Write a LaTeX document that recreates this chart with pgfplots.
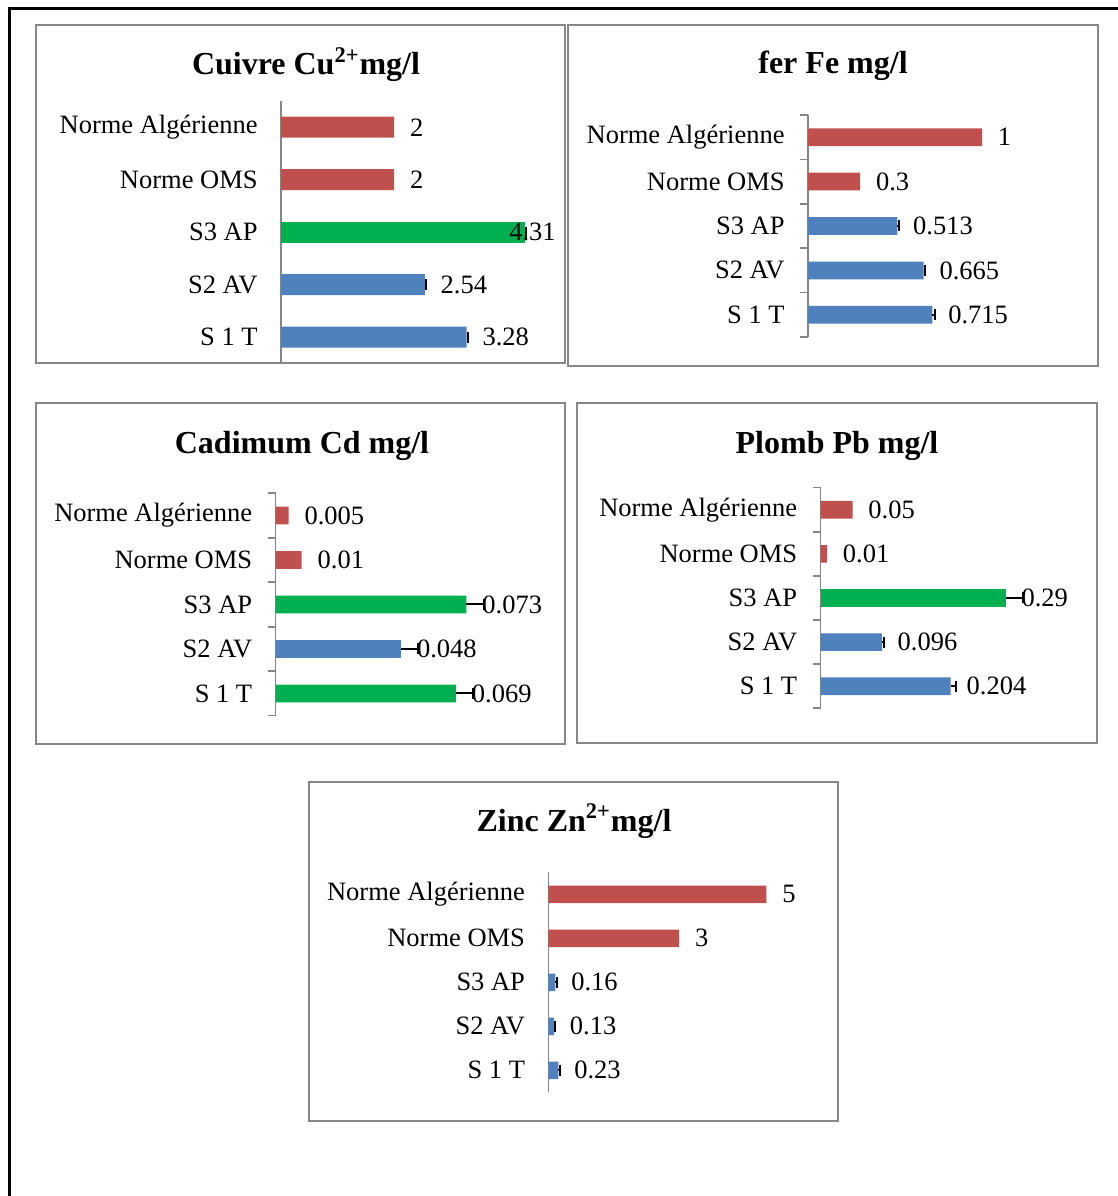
\documentclass[border=0pt]{standalone}
\usepackage{pgfplots}
\pgfplotsset{compat=1.18}
\usepackage{fontspec}
\setmainfont{Liberation Serif}
\definecolor{cred}{HTML}{C0504D}
\definecolor{cblue}{HTML}{4F81BD}
\definecolor{cgreen}{HTML}{00B050}
\definecolor{cframe}{HTML}{878787}
\definecolor{caxis}{HTML}{868686}
\pgfplotsset{
  panel/.style={
    scale only axis,
    axis y line*=left,
    axis x line=none,
    xtick=\empty,
    xmin=0,
    ymin=-0.5, ymax=4.5,
    ytick={0,1,2,3,4},
    yticklabels={S 1 T, S2 AV, S3 AP, Norme OMS, Norme Algérienne},
    major tick length=0pt,
    tick align=outside,
    y axis line style={draw=caxis, line width=0.8pt},
    yticklabel style={font=\fontsize{13.25}{15}\selectfont, inner sep=0pt, xshift=-11.5pt},
    clip=false,
    anchor=south west,
  },
  withticks/.style={
    minor ytick={-0.5,0.5,1.5,2.5,3.5,4.5},
    minor tick length=4pt,
    minor tick style={draw=caxis, line width=0.8pt},
  },
  bars/.style={
    xbar, bar width=0.4, bar shift=0pt, draw=none, fill=#1,
    nodes near coords, point meta=explicit symbolic,
    nodes near coords style={anchor=west, inner sep=0pt, xshift=7.75pt,
      font=\fontsize{13.25}{15}\selectfont, text=black},
  },
  errs/.style={
    /pgfplots/error bars/x dir=plus,
    /pgfplots/error bars/x explicit,
    /pgfplots/error bars/error bar style={black, line width=1pt},
    /pgfplots/error bars/error mark options={black, line width=1pt, mark size=2.75pt, rotate=90},
  },
}
\begin{document}
\begin{tikzpicture}
\begin{scope}[x=0.5pt,y=0.5pt]
\path[use as bounding box] (0,0) rectangle (1118,1196);
\draw[line width=1.5pt, black] (9.5,0) -- (9.5,1187.5) -- (1118,1187.5);
\draw[cframe, line width=1pt] (36,1171) rectangle (565,833);
\draw[cframe, line width=1pt] (568,1171) rectangle (1098,830);
\draw[cframe, line width=1pt] (36,793) rectangle (565,452);
\draw[cframe, line width=1pt] (577,793) rectangle (1097,453);
\draw[cframe, line width=1pt] (309,414) rectangle (838,75);
\begin{scope}[every node/.style={font=\bfseries\fontsize{16}{18}\selectfont, anchor=base}]
\node at (306,1121) {Cuivre Cu\textsuperscript{2+}mg/l};
\node at (833,1122) {fer Fe mg/l};
\node at (302,742) {Cadimum Cd mg/l};
\node at (837,742) {Plomb Pb mg/l};
\node at (574,364.5) {Zinc Zn\textsuperscript{2+}mg/l};
\end{scope}
\end{scope}

% Cuivre
\begin{axis}[panel, at={(140.5pt,416.25pt)}, width=130.18pt, height=131.25pt, xmax=4.6]
\addplot[bars=cred] table[x=v, y=y, meta=lab, row sep=\\]{v y lab\\ 2 4 2\\ 2 3 2\\};
\addplot[bars=cblue, errs] table[x=v, y=y, x error=e, meta=lab, row sep=\\]{v y e lab\\ 2.54 1 0.02 2.54\\ 3.28 0 0.03 3.28\\};
\addplot[bars=cgreen, errs, nodes near coords style={xshift=-15.75pt}] table[x=v, y=y, x error=e, meta=lab, row sep=\\]{v y e lab\\ 4.31 2 0.02 4.31\\};
\end{axis}

% Fer
\begin{axis}[panel, withticks, at={(404pt,429.5pt)}, width=104.4pt, height=111pt, xmax=1.2]
\addplot[bars=cred] table[x=v, y=y, meta=lab, row sep=\\]{v y lab\\ 1 4 1\\ 0.3 3 0.3\\};
\addplot[bars=cblue, errs] table[x=v, y=y, x error=e, meta=lab, row sep=\\]{v y e lab\\ 0.513 2 0.008 0.513\\ 0.665 1 0.01 0.665\\ 0.715 0 0.017 0.715\\};
\end{axis}

% Cadmium
\begin{axis}[panel, withticks, at={(137.8pt,240.15pt)}, width=130.75pt, height=111.2pt, xmax=0.1]
\addplot[bars=cred] table[x=v, y=y, meta=lab, row sep=\\]{v y lab\\ 0.005 4 0.005\\ 0.01 3 0.01\\};
\addplot[bars=cblue, errs] table[x=v, y=y, x error=e, meta=lab, row sep=\\]{v y e lab\\ 0.048 1 0.0065 0.048\\};
\addplot[bars=cgreen, errs] table[x=v, y=y, x error=e, meta=lab, row sep=\\]{v y e lab\\ 0.073 2 0.0066 0.073\\ 0.069 0 0.0064 0.069\\};
\end{axis}

% Plomb
\begin{axis}[panel, withticks, at={(410.3pt,243.85pt)}, width=127.6pt, height=110.3pt, xmax=0.4]
\addplot[bars=cred] table[x=v, y=y, meta=lab, row sep=\\]{v y lab\\ 0.05 4 0.05\\ 0.01 3 0.01\\};
\addplot[bars=cblue, errs] table[x=v, y=y, x error=e, meta=lab, row sep=\\]{v y e lab\\ 0.096 1 0.003 0.096\\ 0.204 0 0.009 0.204\\};
\addplot[bars=cgreen, errs] table[x=v, y=y, x error=e, meta=lab, row sep=\\]{v y e lab\\ 0.29 2 0.028 0.29\\};
\end{axis}

% Zinc
\begin{axis}[panel, at={(274.2pt,51.85pt)}, width=130.8pt, height=110pt, xmax=6]
\addplot[bars=cred] table[x=v, y=y, meta=lab, row sep=\\]{v y lab\\ 5 4 5\\ 3 3 3\\};
\addplot[bars=cblue, errs] table[x=v, y=y, x error=e, meta=lab, row sep=\\]{v y e lab\\ 0.16 2 0.03 0.16\\ 0.13 1 0.03 0.13\\ 0.23 0 0.03 0.23\\};
\end{axis}
\end{tikzpicture}
\end{document}
